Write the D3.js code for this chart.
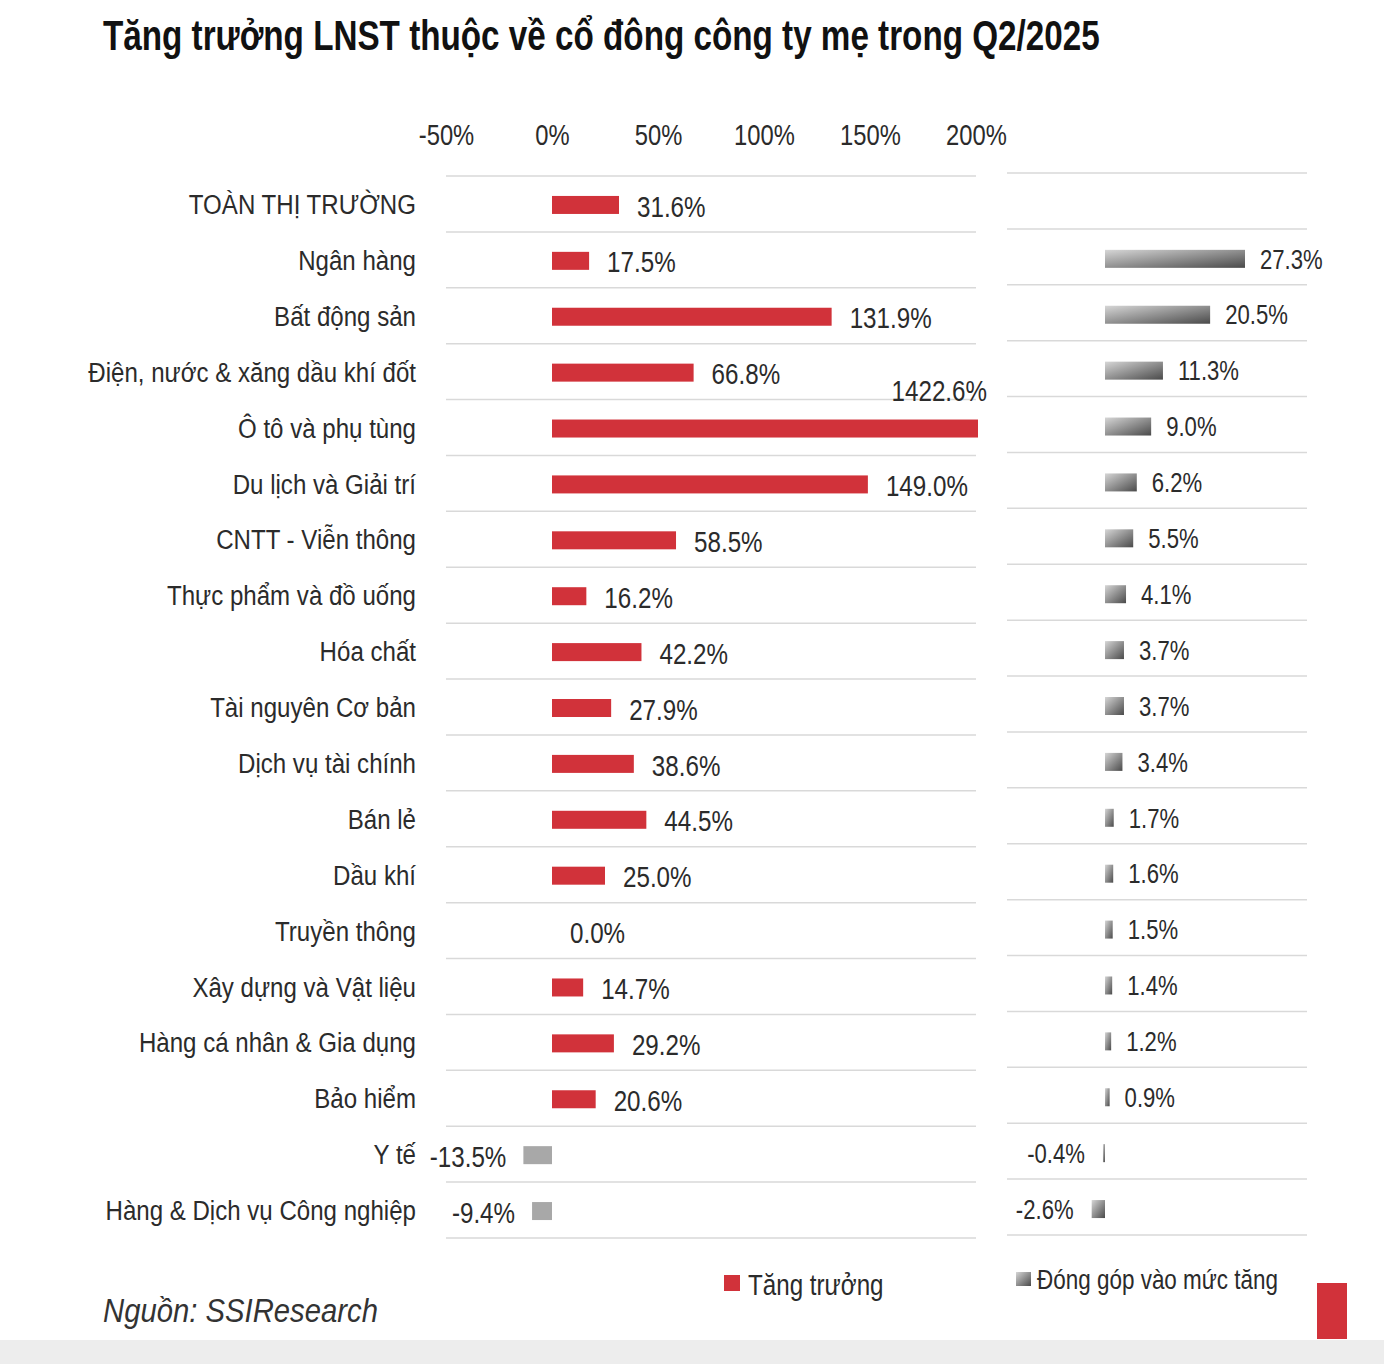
<!DOCTYPE html>
<html>
<head>
<meta charset="utf-8">
<script src="https://cdn.jsdelivr.net/npm/d3@7"></script>
<style>
  body { margin: 0; background: #fff; }
  svg text { font-family: "Liberation Sans", Arial, sans-serif; fill: #2b2b2b; }
</style>
</head>
<body>
<svg id="chart" width="1384" height="1364"></svg>
<script>
// Data
const categories = [
    "TOÀN THỊ TRƯỜNG", "Ngân hàng", "Bất động sản", "Điện, nước & xăng dầu khí đốt",
    "Ô tô và phụ tùng", "Du lịch và Giải trí", "CNTT - Viễn thông", "Thực phẩm và đồ uống",
    "Hóa chất", "Tài nguyên Cơ bản", "Dịch vụ tài chính", "Bán lẻ", "Dầu khí",
    "Truyền thông", "Xây dựng và Vật liệu", "Hàng cá nhân & Gia dụng", "Bảo hiểm",
    "Y tế", "Hàng & Dịch vụ Công nghiệp"
];
const growth = [31.6, 17.5, 131.9, 66.8, 1422.6, 149.0, 58.5, 16.2, 42.2, 27.9, 38.6, 44.5, 25.0, 0.0, 14.7, 29.2, 20.6, -13.5, -9.4];
const contribution = [null, 27.3, 20.5, 11.3, 9.0, 6.2, 5.5, 4.1, 3.7, 3.7, 3.4, 1.7, 1.6, 1.5, 1.4, 1.2, 0.9, -0.4, -2.6];
const growthTicks = [-50, 0, 50, 100, 150, 200];

const title = "Tăng trưởng LNST thuộc về cổ đông công ty mẹ trong Q2/2025";
const legendGrowth = "Tăng trưởng";
const legendContrib = "Đóng góp vào mức tăng";
const source = "Nguồn: SSIResearch";

const RED = "#d1323a";
const NEG = "#a8a8a8";
const SQUEEZE = 0.82; // narrow look of the original font

const svg = d3.select("#chart");

// place a text at (x, y) and squeeze it horizontally
function narrow(sel, fx, fy, k) {
    k = k || SQUEEZE;
    return sel
        .attr("x", 0).attr("y", 0)
        .attr("transform", (d, i) => "translate(" + fx(d, i) + "," + fy(d, i) + ") scale(" + k + ",1)");
}

// squeeze a single text so it spans a given width
function fitWidth(sel, x0, y0, w) {
    const natural = sel.node().getComputedTextLength();
    const k = Math.min(1, w / natural);
    return sel.attr("x", 0).attr("y", 0)
        .attr("transform", "translate(" + x0 + "," + y0 + ") scale(" + k + ",1)");
}

// gradient for contribution bars
const defs = svg.append("defs");
const grad = defs.append("linearGradient")
    .attr("id", "grayGrad")
    .attr("x1", "0").attr("y1", "0").attr("x2", "1").attr("y2", "1");
grad.append("stop").attr("offset", "0%").attr("stop-color", "#d6d6d6");
grad.append("stop").attr("offset", "100%").attr("stop-color", "#4a4a4a");

// bottom grey strip
svg.append("rect")
    .attr("x", 0).attr("y", 1340).attr("width", 1384).attr("height", 24)
    .attr("fill", "#ededed");

// title
const titleText = svg.append("text")
    .style("font-size", "43px")
    .style("font-weight", "bold")
    .style("fill", "#111")
    .text(title);
fitWidth(titleText, 103, 50, 997);

// scales
const y = d3.scaleBand()
    .domain(categories)
    .range([176, 1238])
    .padding(0);

const x = d3.scaleLinear()
    .domain([-50, 200])
    .range([446, 976])
    .clamp(true);

const x2 = d3.scaleLinear()
    .domain([0, 27.3])
    .range([1105, 1245]);

const barH = 18;
const mid = d => y(d) + y.bandwidth() / 2;

// gridlines
const lines = d3.range(categories.length + 1).map(i => y.range()[0] + i * y.step());
svg.append("g").selectAll("line").data(lines).join("line")
    .attr("x1", 446).attr("x2", 976)
    .attr("y1", d => d).attr("y2", d => d)
    .attr("stroke", "#d9d9d9").attr("stroke-width", 1.5);
svg.append("g").selectAll("line").data(lines).join("line")
    .attr("x1", 1007).attr("x2", 1307)
    .attr("y1", d => d - 3).attr("y2", d => d - 3)
    .attr("stroke", "#d9d9d9").attr("stroke-width", 1.5);

// top axis
const axis = d3.axisTop(x)
    .tickValues(growthTicks)
    .tickSize(0)
    .tickPadding(0)
    .tickFormat(d => d + "%");

svg.append("g")
    .attr("transform", "translate(0,145)")
    .call(axis)
    .call(g => g.select(".domain").remove())
    .selectAll("text")
    .attr("transform", "scale(" + SQUEEZE + ",1)")
    .style("font-size", "29px")
    .style("font-family", "'Liberation Sans', Arial, sans-serif")
    .style("fill", "#2b2b2b");

// category labels
narrow(svg.append("g").selectAll("text").data(categories).join("text"),
        () => 416, d => mid(d), 0.86)
    .attr("dy", "0.36em")
    .attr("text-anchor", "end")
    .style("font-size", "28px")
    .text(d => d);

// growth bars
const rows = categories.map((c, i) => ({ c, g: growth[i], k: contribution[i] }));

svg.append("g").selectAll("rect").data(rows.filter(d => d.g !== 0)).join("rect")
    .attr("x", d => Math.min(x(0), x(d.g)))
    .attr("y", d => mid(d.c) - barH / 2 + 1)
    .attr("width", d => Math.abs(x(d.g) - x(0)) + (d.g > 200 ? 2 : 0))
    .attr("height", barH)
    .attr("fill", d => d.g < 0 ? NEG : RED);

// growth value labels
narrow(svg.append("g").selectAll("text").data(rows).join("text"),
        d => d.g > 200 ? x(200) + 11 : (d.g < 0 ? x(d.g) - 17 : x(d.g) + 18),
        d => mid(d.c) + (d.g > 200 ? -37 : 2))
    .attr("dy", "0.36em")
    .attr("text-anchor", d => (d.g < 0 || d.g > 200) ? "end" : "start")
    .style("font-size", "29.5px")
    .text(d => d.g.toFixed(1) + "%");

// contribution bars
const rows2 = rows.filter(d => d.k !== null);
svg.append("g").selectAll("rect").data(rows2).join("rect")
    .attr("x", d => Math.min(x2(0), x2(d.k)))
    .attr("y", d => mid(d.c) - barH / 2 - 1)
    .attr("width", d => Math.max(2, Math.abs(x2(d.k) - x2(0))))
    .attr("height", barH)
    .attr("fill", "url(#grayGrad)");

narrow(svg.append("g").selectAll("text").data(rows2).join("text"),
        d => d.k < 0 ? Math.min(x2(0), x2(d.k)) - 18 : x2(d.k) + 15,
        d => mid(d.c) - 1)
    .attr("dy", "0.36em")
    .attr("text-anchor", d => d.k < 0 ? "end" : "start")
    .style("font-size", "27px")
    .text(d => d.k.toFixed(1) + "%");

// legend
svg.append("rect")
    .attr("x", 724).attr("y", 1275).attr("width", 16).attr("height", 16)
    .attr("fill", RED);
narrow(svg.append("text"), () => 748, () => 1284)
    .attr("dy", "0.36em")
    .style("font-size", "29.5px")
    .text(legendGrowth);

svg.append("rect")
    .attr("x", 1016).attr("y", 1272).attr("width", 15).attr("height", 14)
    .attr("fill", "url(#grayGrad)");
narrow(svg.append("text"), () => 1037, () => 1279)
    .attr("dy", "0.36em")
    .style("font-size", "27.4px")
    .text(legendContrib);

// source
const sourceText = svg.append("text")
    .style("font-size", "34px")
    .style("font-style", "italic")
    .style("fill", "#333")
    .text(source);
fitWidth(sourceText, 103, 1322, 275);

// red corner block
svg.append("rect")
    .attr("x", 1317).attr("y", 1283).attr("width", 30).attr("height", 56)
    .attr("fill", RED);
</script>
</body>
</html>
